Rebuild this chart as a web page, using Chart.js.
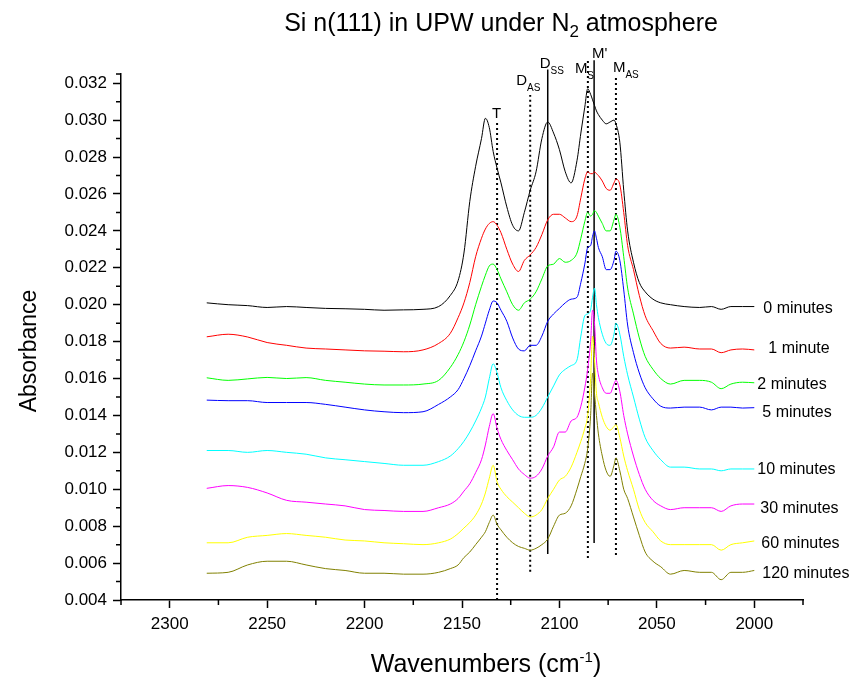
<!DOCTYPE html>
<html lang="en">
<head>
  <meta charset="UTF-8">
  <title>Si n(111) in UPW under N2 atmosphere</title>
  <script src="https://cdn.jsdelivr.net/npm/chart.js"></script>
  <style>
    body { margin: 0; background: #fff; }
  </style>
</head>
<body>
  <canvas id="grafico" width="852" height="681"></canvas>

  <script>
    // wavenumbers (cm-1), shared by every spectrum
    const wavenumbers = [2281, 2270, 2260, 2250, 2240, 2230, 2220, 2210, 2200, 2190,
      2180, 2170, 2162, 2156, 2152, 2149, 2146, 2143, 2140, 2138,
      2136, 2134, 2132, 2130, 2127, 2124, 2121, 2118, 2115, 2112,
      2109, 2106, 2103, 2100, 2097, 2094, 2091, 2089, 2087, 2085.5,
      2084, 2083, 2082, 2081, 2080, 2078, 2076, 2074, 2072, 2071,
      2069, 2067, 2065, 2062, 2059, 2056, 2052, 2048, 2043, 2036,
      2028, 2022, 2017, 2012, 2006, 2000];

    const abs0min = [0.0201, 0.0200, 0.01995, 0.01985, 0.0199, 0.01985, 0.0198, 0.01978, 0.01975, 0.0197,
      0.01972, 0.01975, 0.0199, 0.0205, 0.0213, 0.0228, 0.0256, 0.0275, 0.0290, 0.0301,
      0.0296, 0.0283, 0.0274, 0.0266, 0.0253, 0.0243, 0.0240, 0.0250, 0.0262, 0.0272,
      0.0290, 0.0299, 0.0293, 0.0284, 0.0272, 0.0266, 0.0278, 0.0293, 0.0307, 0.0317,
      0.0314, 0.0311, 0.0308, 0.0305, 0.0303, 0.0300, 0.0298, 0.0299, 0.0300, 0.0298,
      0.0288, 0.0262, 0.0240, 0.0223, 0.0212, 0.0207, 0.0203, 0.0201, 0.0200, 0.0199,
      0.01985, 0.0199, 0.01975, 0.0199, 0.0199, 0.0199];
    const abs1min = [0.01826, 0.0184, 0.01825, 0.01795, 0.0178, 0.01765, 0.0176, 0.01755, 0.0175, 0.01748,
      0.01745, 0.01755, 0.0179, 0.01845, 0.0193, 0.0201, 0.0212, 0.0226, 0.0236, 0.0241,
      0.0244, 0.0245, 0.0243, 0.0239, 0.0230, 0.0222, 0.0218, 0.0224, 0.0227, 0.0231,
      0.0238, 0.0246, 0.0249, 0.0249, 0.0247, 0.0245, 0.0248, 0.0258, 0.0268, 0.0272,
      0.0271, 0.0271, 0.0272, 0.0271, 0.0270, 0.0267, 0.0263, 0.0262, 0.0266, 0.0268,
      0.0265, 0.0250, 0.0232, 0.0219, 0.0205, 0.0194, 0.0186, 0.0179, 0.01765, 0.0177,
      0.0176, 0.0176, 0.0174, 0.01755, 0.0176, 0.01755];
    const abs2min = [0.01604, 0.0159, 0.01598, 0.01606, 0.0160, 0.01605, 0.0159, 0.0158, 0.0157, 0.01565,
      0.01565, 0.0157, 0.0159, 0.0166, 0.0173, 0.0180, 0.0189, 0.0200, 0.0210, 0.0216,
      0.0221, 0.0222, 0.0219, 0.0214, 0.0207, 0.0200, 0.0197, 0.0201, 0.0203, 0.0207,
      0.0214, 0.0221, 0.0222, 0.0225, 0.0223, 0.0224, 0.0228, 0.0236, 0.0245, 0.0250,
      0.0248, 0.0249, 0.0251, 0.0250, 0.0248, 0.0244, 0.0240, 0.0240, 0.0246, 0.0249,
      0.0242, 0.0226, 0.0209, 0.0195, 0.0182, 0.0172, 0.0165, 0.0160, 0.0157, 0.0159,
      0.0159, 0.0158, 0.01545, 0.0157, 0.0158, 0.01577];
    const abs5min = [0.01483, 0.0148, 0.0148, 0.0147, 0.0147, 0.0147, 0.0146, 0.01445, 0.0143, 0.0142,
      0.01415, 0.0142, 0.0146, 0.0150, 0.0154, 0.0160, 0.0167, 0.0175, 0.0183, 0.0190,
      0.0197, 0.0202, 0.0201, 0.0197, 0.0191, 0.0182, 0.0176, 0.0175, 0.0178, 0.0178,
      0.0183, 0.0191, 0.0195, 0.0198, 0.0201, 0.0203, 0.0204, 0.0212, 0.0222, 0.0231,
      0.0232, 0.0237, 0.0240, 0.0236, 0.0231, 0.0226, 0.0219, 0.0219, 0.0224, 0.0229,
      0.0224, 0.0208, 0.0189, 0.0174, 0.0163, 0.0155, 0.0149, 0.0145, 0.0144, 0.01445,
      0.01445, 0.0143, 0.01445, 0.01445, 0.0144, 0.01442];
    const abs10min = [0.0121, 0.0121, 0.0120, 0.0121, 0.0120, 0.0119, 0.0117, 0.0116, 0.0115, 0.0114,
      0.0113, 0.0113, 0.0115, 0.0118, 0.0122, 0.0126, 0.0131, 0.0137, 0.0144, 0.0150,
      0.0160, 0.0168, 0.0163, 0.0155, 0.0148, 0.0143, 0.0140, 0.0139, 0.0139, 0.0140,
      0.0144, 0.0150, 0.0156, 0.0162, 0.0165, 0.0167, 0.0170, 0.0183, 0.0194, 0.0195,
      0.0197, 0.0204, 0.0209, 0.0200, 0.0193, 0.0184, 0.0179, 0.0178, 0.0184, 0.0190,
      0.0184, 0.0172, 0.0162, 0.0150, 0.0138, 0.0128, 0.0121, 0.0116, 0.0112, 0.0112,
      0.0111, 0.0111, 0.0110, 0.0111, 0.0111, 0.0111];
    const abs30min = [0.01005, 0.0102, 0.0101, 0.0098, 0.0094, 0.0093, 0.0092, 0.0091, 0.0089, 0.00885,
      0.0088, 0.0088, 0.0090, 0.0092, 0.0095, 0.0099, 0.0103, 0.0109, 0.0116, 0.0124,
      0.0134, 0.0141, 0.0133, 0.0127, 0.0121, 0.0116, 0.0111, 0.0108, 0.0106, 0.0107,
      0.0111, 0.0118, 0.0123, 0.0131, 0.0131, 0.0137, 0.0139, 0.0145, 0.0155, 0.0165,
      0.0180, 0.0197, 0.0190, 0.0170, 0.0162, 0.0155, 0.0152, 0.0152, 0.0157, 0.0159,
      0.0153, 0.0140, 0.0130, 0.0118, 0.0108, 0.0100, 0.0094, 0.0091, 0.0089, 0.0090,
      0.0090, 0.0090, 0.0088, 0.0091, 0.0092, 0.0092];
    const abs60min = [0.0071, 0.0071, 0.0074, 0.0075, 0.0076, 0.0075, 0.0074, 0.00725, 0.0072, 0.0071,
      0.00705, 0.0070, 0.0071, 0.0073, 0.0076, 0.0079, 0.0082, 0.0086, 0.0092, 0.0098,
      0.0106, 0.0113, 0.0104, 0.0100, 0.0096, 0.0093, 0.0090, 0.0087, 0.0085, 0.0086,
      0.0089, 0.0095, 0.0100, 0.0105, 0.0107, 0.0112, 0.0120, 0.0126, 0.0133, 0.0140,
      0.0160, 0.0183, 0.0170, 0.0152, 0.0147, 0.0139, 0.0134, 0.0132, 0.0134, 0.0135,
      0.0128, 0.0118, 0.0110, 0.0100, 0.0089, 0.0082, 0.0077, 0.0072, 0.0070, 0.0070,
      0.0070, 0.0070, 0.0067, 0.0070, 0.0071, 0.0072];
    const abs120min = [0.00545, 0.0055, 0.0059, 0.0061, 0.0061, 0.0059, 0.0057, 0.0056, 0.00545, 0.00545,
      0.0054, 0.0054, 0.0055, 0.0057, 0.0059, 0.0063, 0.0066, 0.0070, 0.0074, 0.0077,
      0.0082, 0.0086, 0.0081, 0.0078, 0.0074, 0.0071, 0.0069, 0.0068, 0.0067, 0.0068,
      0.0070, 0.0073, 0.0080, 0.0086, 0.0087, 0.0091, 0.0100, 0.0107, 0.0114, 0.0122,
      0.0140, 0.0163, 0.0152, 0.0140, 0.0130, 0.0118, 0.0110, 0.0107, 0.0113, 0.0117,
      0.0110, 0.0100, 0.0095, 0.0085, 0.0075, 0.0066, 0.0061, 0.0058, 0.0054, 0.0056,
      0.0055, 0.0055, 0.0051, 0.0055, 0.0055, 0.0056];

    const seriesNames = ["0 minutes", "1 minute", "2 minutes", "5 minutes",
      "10 minutes", "30 minutes", "60 minutes", "120 minutes"];
    const seriesValues = [abs0min, abs1min, abs2min, abs5min, abs10min, abs30min, abs60min, abs120min];

    // band markers: position, top and bottom of each marker line
    const bandNames = ["T", "D", "D", "M", "M'", "M"];
    const bandSubs = ["", "AS", "SS", "S", "", "AS"];
    const bandPositions = [2132, 2115, 2106, 2085.4, 2082.2, 2071];
    const bandTops = [0.0300, 0.03136, 0.03275, 0.03325, 0.03325, 0.03235];
    const bandBottoms = [0.0040, 0.00553, 0.00649, 0.00627, 0.00709, 0.00644];

    const xMajor = [2300, 2250, 2200, 2150, 2100, 2050, 2000];
    const xMinor = [2325, 2275, 2225, 2175, 2125, 2075, 2025, 1975];
    const yMajor = [0.004, 0.006, 0.008, 0.010, 0.012, 0.014, 0.016, 0.018,
      0.020, 0.022, 0.024, 0.026, 0.028, 0.030, 0.032];
    const yMinor = [0.005, 0.007, 0.009, 0.011, 0.013, 0.015, 0.017, 0.019,
      0.021, 0.023, 0.025, 0.027, 0.029, 0.031, 0.0325];

    // styles
    const cores = ["#000000", "#ff0000", "#00ff00", "#0000ff", "#00ffff", "#ff00ff", "#ffff00", "#808000"];
    const bandDotted = [true, true, false, true, false, true];
    const bandLabelDx = [-5, -14, -8, -13, -2, -3];
    const bandLabelDy = [-2, -10, -1, 13, -2, -5];
    const nomeDx = [9, 14, 3, 8, 3, 6, 7, 8];
    const nomeDy = [1, -2, 1, 4, 0, 4, 2, 3];

    const fonte = '"Liberation Sans", Arial, sans-serif';
    Chart.defaults.font.family = fonte;
    Chart.defaults.color = "#000";

    const datasets = seriesValues.map((vals, i) => ({
      label: seriesNames[i],
      data: wavenumbers.map((w, j) => ({ x: w, y: vals[j] })),
      borderColor: cores[i],
      borderWidth: 1,
      pointRadius: 0,
      cubicInterpolationMode: "monotone",
      fill: false
    }));

    bandPositions.forEach((p, i) => {
      datasets.push({
        label: bandNames[i] + bandSubs[i],
        data: [{ x: p, y: bandBottoms[i] }, { x: p, y: bandTops[i] }],
        borderColor: "#000",
        borderWidth: bandDotted[i] ? 2 : 1.5,
        borderDash: bandDotted[i] ? [2, 3] : [],
        pointRadius: 0,
        clip: false
      });
    });

    function escreve(ctx, partes, x, y, align) {
      // partes: [texto, tamanho, deslocamento vertical]
      let largura = 0;
      partes.forEach(p => { ctx.font = p[1] + "px " + fonte; largura += ctx.measureText(p[0]).width; });
      let cx = align === "center" ? x - largura / 2 : x;
      partes.forEach(p => {
        ctx.font = p[1] + "px " + fonte;
        ctx.fillText(p[0], cx, y + p[2]);
        cx += ctx.measureText(p[0]).width;
      });
    }

    const textos = {
      id: "textos",
      afterDraw(chart) {
        const ctx = chart.ctx;
        const xs = chart.scales.x, ys = chart.scales.y;
        const area = chart.chartArea;
        ctx.save();
        ctx.fillStyle = "#000";
        ctx.strokeStyle = "#000";
        ctx.textAlign = "left";
        ctx.textBaseline = "alphabetic";

        // minor ticks
        ctx.lineWidth = 1.5;
        ctx.beginPath();
        xMinor.forEach(v => {
          const px = xs.getPixelForValue(v);
          ctx.moveTo(px, area.bottom); ctx.lineTo(px, area.bottom + 5);
        });
        yMinor.forEach(v => {
          const py = ys.getPixelForValue(v);
          ctx.moveTo(area.left, py); ctx.lineTo(area.left - 5, py);
        });
        ctx.stroke();

        // title
        escreve(ctx, [["Si n(111) in UPW under N", 25, 0], ["2", 17, 6], [" atmosphere", 25, 0]], 501, 31, "center");

        // axis titles
        escreve(ctx, [["Wavenumbers (cm", 25, 0], ["-1", 15, -10], [")", 25, 0]], 486, 672, "center");
        ctx.save();
        ctx.translate(36, 351);
        ctx.rotate(-Math.PI / 2);
        escreve(ctx, [["Absorbance", 23, 0]], 0, 0, "center");
        ctx.restore();

        // band labels
        bandPositions.forEach((p, i) => {
          const px = xs.getPixelForValue(p) + bandLabelDx[i];
          const py = ys.getPixelForValue(bandTops[i]) + bandLabelDy[i];
          const partes = [[bandNames[i], 15, 0]];
          if (bandSubs[i]) partes.push([bandSubs[i], 10, 6]);
          escreve(ctx, partes, px, py, "left");
        });

        // series names at the end of each curve
        seriesValues.forEach((vals, i) => {
          const px = xs.getPixelForValue(wavenumbers[wavenumbers.length - 1]) + nomeDx[i];
          const py = ys.getPixelForValue(vals[vals.length - 1]) + nomeDy[i] + 5;
          escreve(ctx, [[seriesNames[i], 16, 0]], px, py, "left");
        });
        ctx.restore();
      }
    };

    new Chart(document.getElementById("grafico"), {
      type: "line",
      data: { datasets },
      plugins: [textos],
      options: {
        responsive: false,
        animation: false,
        layout: { autoPadding: false, padding: { left: 0, top: 74, right: 49, bottom: 0 } },
        plugins: { legend: { display: false }, title: { display: false }, tooltip: { enabled: false } },
        scales: {
          x: {
            type: "linear",
            reverse: true,
            min: 1975,
            max: 2325,
            afterBuildTicks: s => { s.ticks = xMajor.map(v => ({ value: v })); },
            afterFit: s => { s.height = 81; },
            border: { color: "#000", width: 1.5 },
            grid: { drawOnChartArea: false, drawTicks: true, tickLength: 8, tickWidth: 1.5, tickColor: "#000" },
            ticks: { font: { size: 17 }, padding: 6, maxRotation: 0, callback: v => String(v) }
          },
          y: {
            min: 0.004,
            max: 0.0325,
            afterBuildTicks: s => { s.ticks = yMajor.map(v => ({ value: v })); },
            afterFit: s => { s.width = 121; },
            border: { color: "#000", width: 1.5 },
            grid: { drawOnChartArea: false, drawTicks: true, tickLength: 8, tickWidth: 1.5, tickColor: "#000" },
            ticks: { font: { size: 17 }, padding: 6, callback: v => v.toFixed(3) }
          }
        }
      }
    });
  </script>
</body>
</html>
